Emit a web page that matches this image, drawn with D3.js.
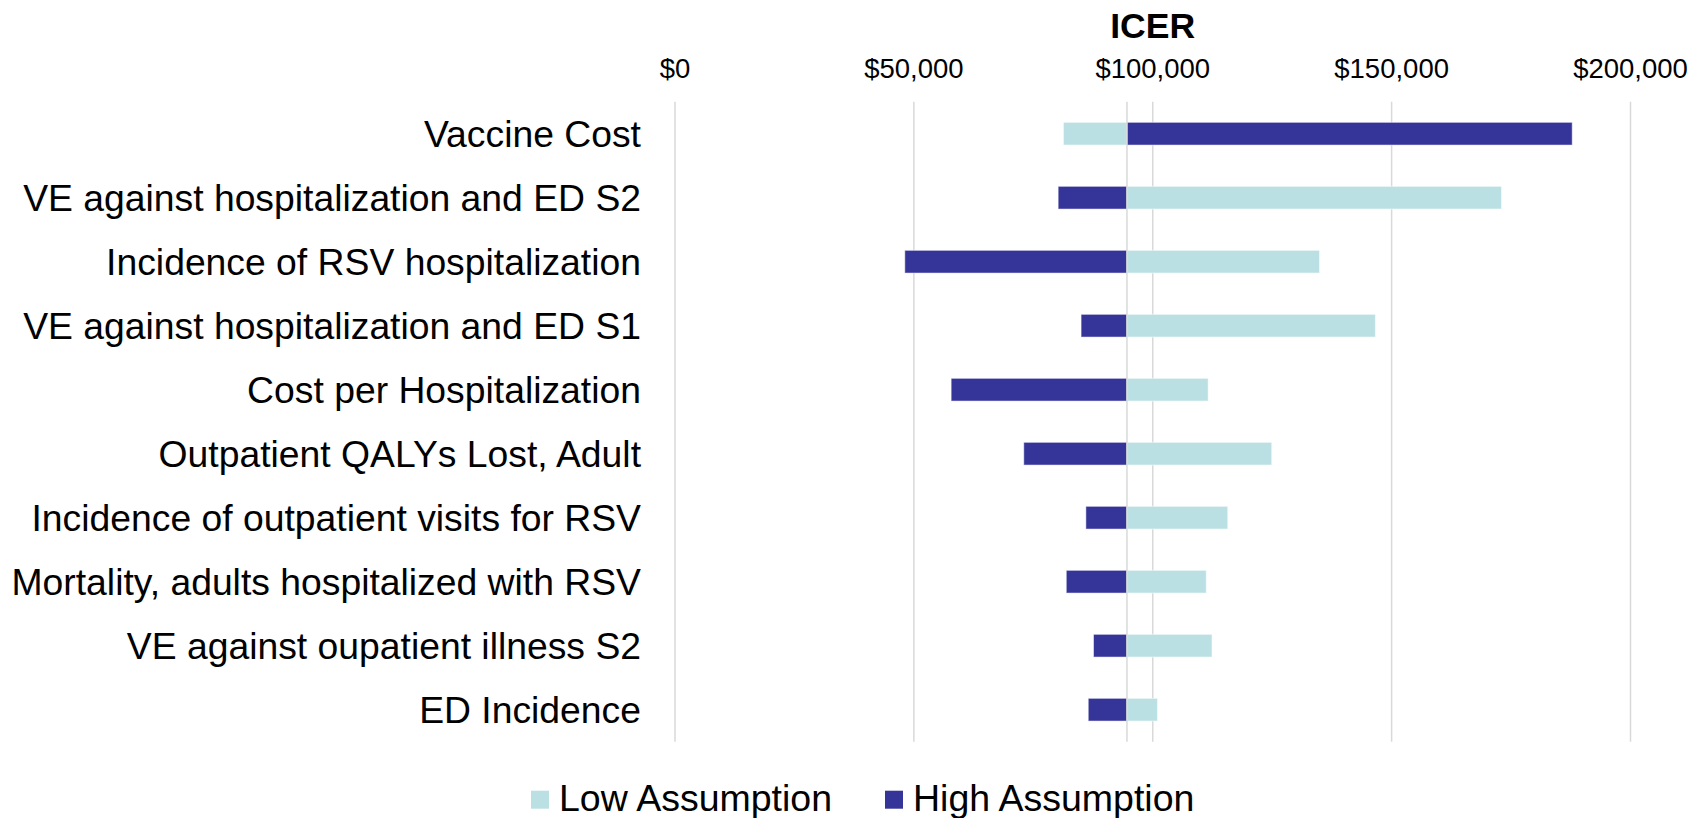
<!DOCTYPE html>
<html>
<head>
<meta charset="utf-8">
<script src="https://cdn.jsdelivr.net/npm/d3@7"></script>
<style>
  body { margin: 0; background: #fff; }
  text { font-family: "Liberation Sans", Arial, sans-serif; fill: #000; }
</style>
</head>
<body>
<script>
// Data
var categories = [
  "Vaccine Cost",
  "VE against hospitalization and ED S2",
  "Incidence of RSV hospitalization",
  "VE against hospitalization and ED S1",
  "Cost per Hospitalization",
  "Outpatient QALYs Lost, Adult",
  "Incidence of outpatient visits for RSV",
  "Mortality, adults hospitalized with RSV",
  "VE against oupatient illness S2",
  "ED Incidence"
];
var lowValues = [81300, 173000, 134900, 146600, 111600, 124900, 115700, 111200, 112400, 101000];
var highValues = [187800, 80200, 48100, 85000, 57800, 73000, 86000, 81900, 87600, 86500];
var baseValue = 94600;
var tickValues = [0, 50000, 100000, 150000, 200000];
var series = ["Low Assumption", "High Assumption"];

// Dimensions
var width = 1702;
var height = 818;
var margin = { top: 101.7, right: 72, bottom: 76.3, left: 675 };

var colors = { "Low Assumption": "#bbe0e3", "High Assumption": "#353599" };

var svg = d3.select("body")
  .append("svg")
  .attr("width", width)
  .attr("height", height);

var x = d3.scaleLinear()
  .domain([0, 200000])
  .range([margin.left, 1630.5]);

var y = d3.scaleBand()
  .domain(categories)
  .range([margin.top, height - margin.bottom]);

var barH = y.bandwidth() * 0.355;

// Gridlines
svg.append("g")
  .selectAll("line")
  .data(tickValues)
  .enter()
  .append("line")
  .attr("x1", function (d) { return x(d); })
  .attr("x2", function (d) { return x(d); })
  .attr("y1", margin.top)
  .attr("y2", height - margin.bottom)
  .attr("stroke", "#d9d9d9")
  .attr("stroke-width", 1.5);

// Tick labels
var fmt = d3.format("$,");
svg.append("g")
  .selectAll("text")
  .data(tickValues)
  .enter()
  .append("text")
  .attr("x", function (d) { return x(d); })
  .attr("y", 78.3)
  .attr("text-anchor", "middle")
  .style("font-size", "27.5px")
  .text(function (d) { return fmt(d); });

// Title
svg.append("text")
  .attr("x", (x(0) + x(200000)) / 2)
  .attr("y", 38.3)
  .attr("text-anchor", "middle")
  .style("font-size", "35.6px")
  .style("font-weight", "bold")
  .text("ICER");

// Bars
function drawBars(values, name) {
  svg.append("g")
    .selectAll("rect")
    .data(values)
    .enter()
    .append("rect")
    .attr("x", function (d) { return x(Math.min(d, baseValue)); })
    .attr("width", function (d) { return Math.abs(x(d) - x(baseValue)); })
    .attr("y", function (d, i) { return y(categories[i]) + (y.bandwidth() - barH) / 2; })
    .attr("height", barH)
    .attr("fill", colors[name])
    .attr("stroke", "#ffffff")
    .attr("stroke-opacity", 0.5)
    .attr("stroke-width", 1);
}
drawBars(lowValues, "Low Assumption");
drawBars(highValues, "High Assumption");

// Base line
svg.append("line")
  .attr("x1", x(baseValue))
  .attr("x2", x(baseValue))
  .attr("y1", margin.top)
  .attr("y2", height - margin.bottom)
  .attr("stroke", "#d9d9d9")
  .attr("stroke-width", 1.5);

// Category labels
svg.append("g")
  .selectAll("text")
  .data(categories)
  .enter()
  .append("text")
  .attr("x", 641)
  .attr("y", function (d) { return y(d) + y.bandwidth() / 2; })
  .attr("dy", "0.36em")
  .attr("text-anchor", "end")
  .style("font-size", "37.3px")
  .text(function (d) { return d; });

// Legend
var legendX = [531, 885];
var legend = svg.append("g")
  .selectAll("g")
  .data(series)
  .enter()
  .append("g")
  .attr("transform", function (d, i) { return "translate(" + legendX[i] + ",0)"; });

legend.append("rect")
  .attr("y", 790.7)
  .attr("width", 18)
  .attr("height", 18)
  .attr("fill", function (d) { return colors[d]; });

legend.append("text")
  .attr("x", 28)
  .attr("y", 810.7)
  .style("font-size", "37.5px")
  .text(function (d) { return d; });
</script>
</body>
</html>
